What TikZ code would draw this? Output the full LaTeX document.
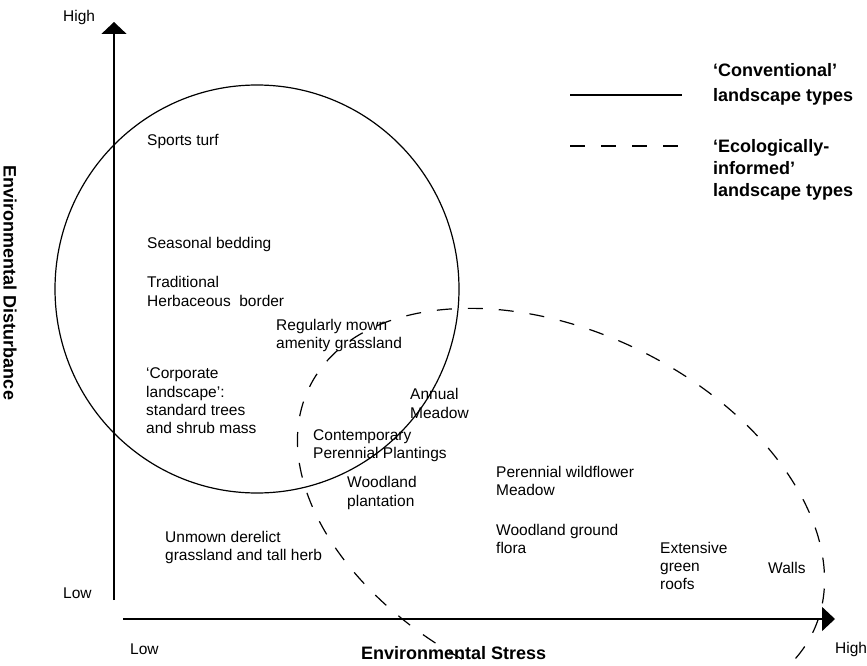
\documentclass[tikz,border=0pt]{standalone}
\usepackage{fontspec}
\setmainfont{Liberation Sans}
\usetikzlibrary{arrows.meta}
\begin{document}
\begin{tikzpicture}[x=1pt,y=-1pt,
  txt/.style={anchor=base west, inner sep=0pt, font=\fontsize{15.5}{18}\selectfont},
  btxt/.style={anchor=base west, inner sep=0pt, font=\fontsize{18}{22}\selectfont\bfseries},
  axisline/.style={line width=1.5pt},
  conv/.style={line width=1.2pt},
  eco/.style={line width=1.2pt, dash pattern=on 15pt off 16pt}]
\fill[white] (0,0) rectangle (867,666);
\useasboundingbox (0,0) rectangle (867,666);
\clip (0,0) rectangle (867,666);

% shapes
\coordinate (cc) at (257,289);
\coordinate (ec) at (561,510);
\draw[conv] (cc) ellipse [x radius=202pt, y radius=204pt];
\draw[eco, rotate around={-26:(ec)}] (ec) ellipse [x radius=280pt, y radius=178pt];

% axes
\coordinate (ys) at (114,600);
\coordinate (ye) at (114,22);
\coordinate (xs) at (123,619);
\coordinate (xe) at (835,619);
\draw[axisline, -{Triangle[width=25pt,length=12pt]}] (ys) -- (ye);
\draw[axisline, -{Triangle[width=24pt,length=13pt]}] (xs) -- (xe);

% legend
\coordinate (l1a) at (570,95);
\coordinate (l1b) at (682,95);
\coordinate (l2a) at (570,146);
\coordinate (l2b) at (682,146);
\draw[conv] (l1a) -- (l1b);
\draw[eco] (l2a) -- (l2b);
\node[btxt] (lg1) at (713,77) {‘Conventional’};
\node[btxt] (lg2) at (713,102) {landscape types};
\node[btxt] (lg3) at (713,152) {‘Ecologically-};
\node[btxt] (lg4) at (713,174) {informed’};
\node[btxt] (lg5) at (713,196) {landscape types};

% axis labels
\node[btxt, rotate=-90, anchor=center] (ylab) at (10,283) {Environmental Disturbance};
\node[btxt] (es) at (361,659) {Environmental Stress};
\node[txt] (hi1) at (63,22) {High};
\node[txt] (lo1) at (63,598) {Low};
\node[txt] (lo2) at (130,654) {Low};
\node[txt] (hi2) at (835,653) {High};

% landscape types
\node[txt] (sp) at (147,146) {Sports turf};
\node[txt] (sb) at (147,248) {Seasonal bedding};
\node[txt] (tr1) at (147,287) {Traditional};
\node[txt] (tr2) at (147,306) {Herbaceous\ \ border};
\node[txt] (rm1) at (276,330) {Regularly mown};
\node[txt] (rm2) at (276,348) {amenity grassland};
\node[txt] (cl1) at (146,378) {‘Corporate};
\node[txt] (cl2) at (146,397) {landscape’:};
\node[txt] (cl3) at (146,415) {standard trees};
\node[txt] (cl4) at (146,433) {and shrub mass};
\node[txt] (am1) at (410,399) {Annual};
\node[txt] (am2) at (410,418) {Meadow};
\node[txt] (cp1) at (313,440) {Contemporary};
\node[txt] (cp2) at (313,458) {Perennial Plantings};
\node[txt] (wp1) at (347,487) {Woodland};
\node[txt] (wp2) at (347,506) {plantation};
\node[txt] (pw1) at (496,477) {Perennial wildflower};
\node[txt] (pw2) at (496,495) {Meadow};
\node[txt] (wg1) at (496,535) {Woodland ground};
\node[txt] (wg2) at (496,553) {flora};
\node[txt] (ud1) at (165,542) {Unmown derelict};
\node[txt] (ud2) at (165,560) {grassland and tall herb};
\node[txt] (eg1) at (660,553) {Extensive};
\node[txt] (eg2) at (660,571) {green};
\node[txt] (eg3) at (660,589) {roofs};
\node[txt] (wl) at (768,573) {Walls};
\end{tikzpicture}
\end{document}
